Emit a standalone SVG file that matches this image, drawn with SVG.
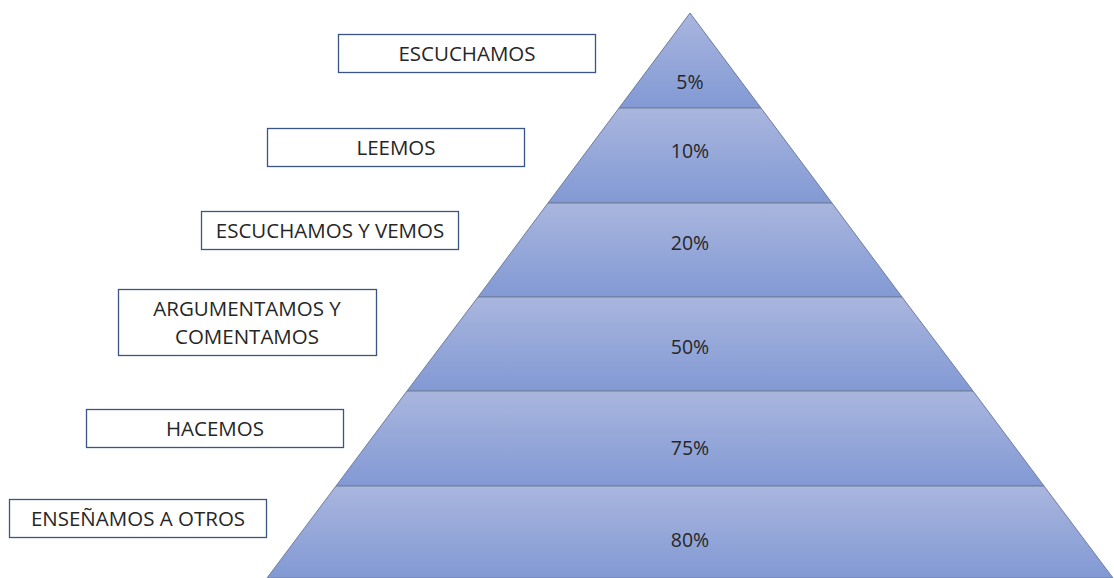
<svg xmlns="http://www.w3.org/2000/svg" width="1114" height="578" viewBox="0 0 1114 578">
<defs>
<linearGradient id="g" x1="0" y1="0" x2="0" y2="1">
<stop offset="0" stop-color="#a9b6de"/>
<stop offset="1" stop-color="#8299d4"/>
</linearGradient>
<style>
.layer{fill:url(#g);stroke:#6f7d9c;stroke-width:1}
.box{fill:#ffffff;stroke:#3a5485;stroke-width:1.3}
.lbl{font-family:"Open Sans","Liberation Sans",sans-serif;font-size:20.5px;fill:#262626;text-anchor:middle}
.pct{font-family:"Open Sans","Liberation Sans",sans-serif;font-size:19.5px;fill:#262626;text-anchor:middle}
</style>
</defs>
<rect width="1114" height="578" fill="#ffffff"/>
<g id="pyramid">
<g id="layer1"><polygon class="layer" points="690,13 761,108 619,108"/><text class="pct" x="690" y="89">5%</text></g>
<g id="layer2"><polygon class="layer" points="619,108 761,108 832,203 548,203"/><text class="pct" x="690" y="158">10%</text></g>
<g id="layer3"><polygon class="layer" points="548,203 832,203 902,297 478,297"/><text class="pct" x="690" y="250">20%</text></g>
<g id="layer4"><polygon class="layer" points="478,297 902,297 973,391 407,391"/><text class="pct" x="690" y="354">50%</text></g>
<g id="layer5"><polygon class="layer" points="407,391 973,391 1044,486 336,486"/><text class="pct" x="690" y="455">75%</text></g>
<g id="layer6"><polygon class="layer" points="336,486 1044,486 1113,578 267,578"/><text class="pct" x="690" y="547">80%</text></g>
</g>
<g id="n1"><rect class="box" x="338.5" y="34.5" width="257" height="38"/><text class="lbl" x="467" y="61">ESCUCHAMOS</text></g>
<g id="n2"><rect class="box" x="267.5" y="128.5" width="257" height="38"/><text class="lbl" x="396" y="155">LEEMOS</text></g>
<g id="n3"><rect class="box" x="201.5" y="211.5" width="257" height="38"/><text class="lbl" x="330" y="238">ESCUCHAMOS Y VEMOS</text></g>
<g id="n4"><rect class="box" x="118.5" y="289.5" width="258" height="66"/><text class="lbl" x="247" y="316">ARGUMENTAMOS Y</text><text class="lbl" x="247" y="344">COMENTAMOS</text></g>
<g id="n5"><rect class="box" x="86.5" y="409.5" width="257" height="38"/><text class="lbl" x="215" y="436">HACEMOS</text></g>
<g id="n6"><rect class="box" x="9.5" y="499.5" width="257" height="38"/><text class="lbl" x="138" y="526">ENSEÑAMOS A OTROS</text></g>
<g id="connectors"></g>
</svg>
